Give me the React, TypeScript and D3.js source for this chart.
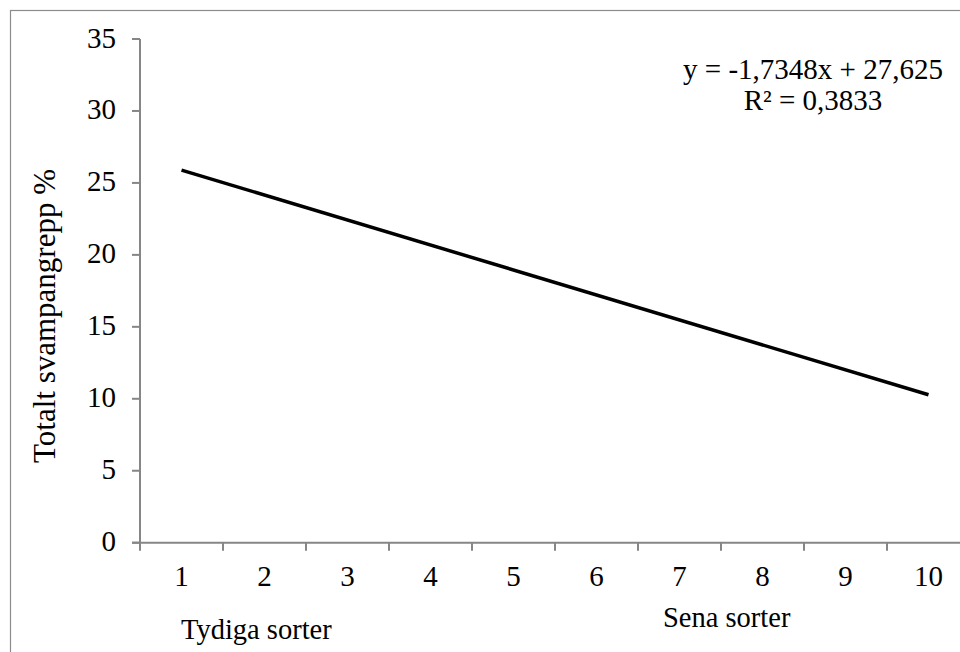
import React from "react";
import * as d3 from "d3";

const categories = ["1", "2", "3", "4", "5", "6", "7", "8", "9", "10"];
const yTicks = [0, 5, 10, 15, 20, 25, 30, 35];
const trendSlope = -1.7348;
const trendIntercept = 27.625;
const equationLines = ["y = -1,7348x + 27,625", "R² = 0,3833"];
const yAxisTitle = "Totalt svampangrepp %";
const groupLabels = ["Tydiga sorter", "Sena sorter"];

export default function App() {
  const W = 960, H = 652;
  const left = 140, right = 970, top = 39, bottom = 542.7;
  const x = d3.scaleBand<string>().domain(categories).range([left, right]).padding(0);
  const y = d3.scaleLinear().domain([0, 35]).range([bottom, top]);
  const cx = (c: string) => (x(c) as number) + x.bandwidth() / 2;
  const trend = categories.map((c) => ({ c, v: trendIntercept + trendSlope * +c }));
  const endpoints = [trend[0], trend[trend.length - 1]];
  const line = d3.line<{ c: string; v: number }>().x((d) => cx(d.c)).y((d) => y(d.v));
  const fs = 29;
  const axisColor = "#868686";
  const tickPos = [left, ...categories.map((c) => (x(c) as number) + x.bandwidth())];
  const ff = "'Liberation Serif', 'Times New Roman', serif";
  return (
    <svg width={W} height={H} style={{ position: "absolute", left: 0, top: 0, display: "block", background: "#fff" }}>
      <g style={{ fontFamily: ff }}>
        <rect x={10.5} y={10.5} width={1000} height={1000} fill="#fff" stroke="#8c8c8c" strokeWidth={1.2} />
        <line x1={left} x2={left} y1={top} y2={bottom} stroke={axisColor} strokeWidth={2} />
        {yTicks.map((t) => (
          <g key={t}>
            <line x1={left - 8} x2={left} y1={y(t)} y2={y(t)} stroke={axisColor} strokeWidth={2} />
            <text x={116} y={y(t) + 8.5} textAnchor="end" fontSize={fs} fill="#000">{t}</text>
          </g>
        ))}
        <line x1={left - 8} x2={W} y1={bottom} y2={bottom} stroke={axisColor} strokeWidth={2} />
        {tickPos.map((p, i) => (
          <line key={i} x1={p} x2={p} y1={bottom} y2={bottom + 8} stroke={axisColor} strokeWidth={2} />
        ))}
        {categories.map((c) => (
          <text key={c} x={cx(c)} y={586} textAnchor="middle" fontSize={fs} fill="#000">{c}</text>
        ))}
        <path d={line(endpoints) || ""} fill="none" stroke="#000" strokeWidth={3.5} />
        <text x={813} y={79} textAnchor="middle" fontSize={fs} fill="#000">{equationLines[0]}</text>
        <text x={813} y={110} textAnchor="middle" fontSize={fs} fill="#000">{equationLines[1]}</text>
        <text transform={`translate(55, 316) rotate(-90)`} textAnchor="middle" fontSize={31} fill="#000">{yAxisTitle}</text>
        <text x={181} y={638.5} fontSize={28.5} fill="#000">{groupLabels[0]}</text>
        <text x={663} y={627} fontSize={28.5} fill="#000">{groupLabels[1]}</text>
      </g>
    </svg>
  );
}
